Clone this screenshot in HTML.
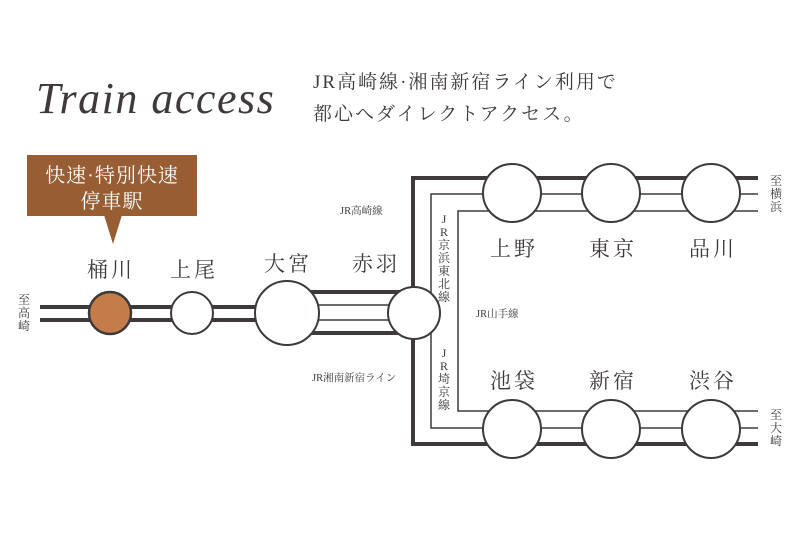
<!DOCTYPE html>
<html><head><meta charset="utf-8"><style>
body{margin:0;background:#fff;width:800px;height:533px;overflow:hidden}
</style></head><body>
<svg width="800" height="533" viewBox="0 0 800 533" xmlns="http://www.w3.org/2000/svg" font-family="'Liberation Serif','Noto Serif CJK SC',serif" fill="#3e3a39">
<text x="36" y="113" font-size="44" font-style="italic" letter-spacing="1.5">Train access</text>
<text x="313" y="88" font-size="19" letter-spacing="2">JR高崎線·湘南新宿ライン利用で</text>
<text x="313" y="120" font-size="19" letter-spacing="2">都心へダイレクトアクセス。</text>
<rect x="27" y="155" width="170" height="61" fill="#985d33"/>
<polygon points="104,215 122,215 113,244" fill="#985d33"/>
<text x="112" y="182" font-size="20" fill="#fff" text-anchor="middle" letter-spacing="1">快速·特別快速</text>
<text x="112" y="208" font-size="20" fill="#fff" text-anchor="middle" letter-spacing="1">停車駅</text>
<g stroke="#3e3a39" fill="none">
<line x1="40" y1="307" x2="290" y2="307" stroke-width="4"/>
<line x1="40" y1="320" x2="290" y2="320" stroke-width="4"/>
<line x1="290" y1="292" x2="415" y2="292" stroke-width="4"/>
<line x1="290" y1="333" x2="415" y2="333" stroke-width="4"/>
<line x1="290" y1="305" x2="415" y2="305" stroke-width="1.5"/>
<line x1="290" y1="320" x2="415" y2="320" stroke-width="1.5"/>
<polyline points="758,178 413,178 413,444 758,444" stroke-width="4"/>
<polyline points="758,194 431,194 431,428 758,428" stroke-width="1.5"/>
<polyline points="758,211 458,211 458,411 758,411" stroke-width="1.5"/>
</g>
<g stroke="#3e3a39" stroke-width="2" fill="#fff">
<circle cx="110" cy="313" r="21" fill="#c47c48" stroke-width="2.5"/>
<circle cx="192" cy="313" r="21"/>
<circle cx="287" cy="313" r="32"/>
<circle cx="414" cy="313" r="26"/>
<circle cx="512" cy="193" r="29"/><circle cx="611" cy="193" r="29"/><circle cx="711" cy="193" r="29"/>
<circle cx="512" cy="429" r="29"/><circle cx="611" cy="429" r="29"/><circle cx="711" cy="429" r="29"/>
</g>
<g font-size="21" text-anchor="middle" letter-spacing="3">
<text x="111" y="277">桶川</text><text x="194" y="277">上尾</text>
<text x="288" y="271">大宮</text><text x="376" y="271">赤羽</text>
<text x="514" y="256">上野</text><text x="613" y="256">東京</text><text x="713" y="256">品川</text>
<text x="514" y="388">池袋</text><text x="613" y="388">新宿</text><text x="713" y="388">渋谷</text>
</g>
<g font-size="10.5">
<text x="340" y="214">JR高崎線</text>
<text x="312" y="381">JR湘南新宿ライン</text>
<text x="476" y="317">JR山手線</text>
</g>
<g font-size="12" text-anchor="middle">
<text x="444" y="223">J</text><text x="444" y="236">R</text><text x="444" y="249">京</text><text x="444" y="262">浜</text><text x="444" y="275">東</text><text x="444" y="288">北</text><text x="444" y="301">線</text>
<text x="444" y="357">J</text><text x="444" y="370">R</text><text x="444" y="383">埼</text><text x="444" y="396">京</text><text x="444" y="409">線</text>
<text x="24" y="304">至</text><text x="24" y="317">高</text><text x="24" y="330">崎</text>
<text x="776" y="185">至</text><text x="776" y="198">横</text><text x="776" y="211">浜</text>
<text x="776" y="419">至</text><text x="776" y="432">大</text><text x="776" y="445">崎</text>
</g>
</svg>
</body></html>
